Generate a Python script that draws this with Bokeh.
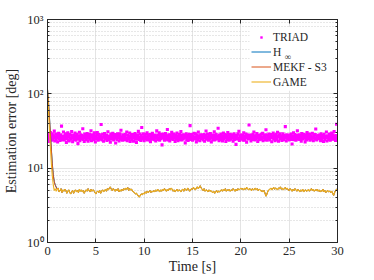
import numpy as np
from bokeh.plotting import figure
from bokeh.models import (FixedTicker, LinearAxis, LogAxis, Legend, BoxAnnotation,
                          LegendItem, Label, Range1d, CustomJSTickFormatter)
from bokeh.embed import file_html
from bokeh.resources import INLINE

# ---------------- data ----------------
triad_dt = 0.05
triad_err = [
    26.1, 24.8, 28.3, 25.5, 22.9, 27.6, 30.2, 25.0, 23.7, 26.9, 29.1, 24.4, 27.2, 25.8, 31.5, 23.3, 26.4, 28.7, 24.1, 25.9,
    27.8, 22.5, 26.6, 29.4, 24.9, 26.0, 23.6, 28.1, 25.3, 36.8, 24.2, 27.0, 25.6, 30.7, 23.9, 26.8, 24.5, 28.9, 26.2, 22.1,
    25.1, 27.4, 29.8, 24.0, 26.5, 23.2, 28.4, 25.7, 27.9, 24.6, 31.1, 26.3, 22.7, 25.4, 28.0, 24.3, 27.1, 29.6, 25.2, 23.8,
    26.7, 28.6, 24.7, 21.4, 27.3, 25.9, 30.4, 23.5, 26.0, 28.2, 24.8, 27.5, 25.1, 33.9, 24.4, 26.6, 22.8, 28.8, 25.6, 27.7,
    24.2, 26.9, 29.3, 25.3, 23.1, 27.0, 25.8, 28.5, 24.6, 26.2, 31.8, 23.4, 26.4, 28.1, 25.0, 24.1, 27.6, 29.9, 25.5, 22.6,
    26.8, 24.9, 27.9, 30.1, 25.2, 23.7, 26.3, 28.4, 24.5, 25.7, 27.2, 38.6, 25.9, 24.0, 28.6, 26.1, 23.0, 27.4, 29.2, 25.4,
    24.7, 26.5, 28.0, 23.6, 25.8, 30.9, 26.7, 24.3, 27.1, 25.1, 22.4, 28.7, 26.0, 24.8, 27.8, 29.5, 25.6, 23.9, 26.9, 28.3,
    25.3, 21.8, 27.5, 26.2, 24.4, 29.0, 25.9, 27.3, 23.3, 26.6, 28.9, 24.6, 32.4, 25.0, 26.4, 23.8, 28.2, 25.7, 24.1, 27.0,
    26.3, 28.5, 24.2, 25.5, 30.6, 23.5, 27.7, 25.2, 26.8, 24.9, 29.7, 22.9, 26.1, 27.9, 25.4, 24.0, 28.4, 26.5, 23.1, 27.2,
    25.8, 29.3, 24.5, 26.7, 22.2, 28.1, 25.1, 27.4, 31.3, 24.3, 26.0, 28.8, 25.6, 23.6, 27.6, 35.2, 24.8, 26.2, 29.1, 25.0,
    23.4, 27.1, 25.7, 28.6, 24.7, 26.4, 30.0, 23.9, 25.3, 27.8, 26.9, 24.2, 28.3, 22.7, 25.9, 27.5, 24.6, 29.4, 26.6, 25.2,
    27.3, 24.1, 26.1, 28.0, 23.2, 25.5, 31.7, 26.8, 24.4, 27.7, 25.0, 29.8, 23.7, 26.3, 28.5, 24.9, 25.8, 20.6, 27.0, 26.5,
    28.7, 25.4, 23.8, 26.9, 29.2, 24.5, 27.2, 25.6, 33.1, 24.0, 26.6, 28.2, 25.1, 23.3, 27.9, 26.0, 24.8, 30.3, 25.7, 27.4,
    24.3, 26.2, 28.8, 25.3, 22.8, 27.6, 25.9, 24.6, 29.6, 26.4, 23.5, 27.1, 25.0, 28.4, 24.2, 26.7, 31.0, 25.5, 23.9, 27.8,
    26.0, 24.7, 28.1, 25.8, 27.3, 21.9, 26.5, 29.0, 24.1, 25.6, 27.5, 23.6, 26.8, 28.6, 25.2, 37.4, 24.4, 26.1, 28.3, 25.0,
    23.7, 27.0, 25.4, 29.5, 24.8, 26.3, 28.9, 25.1, 22.6, 27.7, 26.6, 24.3, 30.5, 25.7, 27.2, 23.4, 26.0, 28.2, 24.9, 26.4,
    27.9, 25.3, 24.0, 26.7, 28.4, 23.0, 25.9, 27.4, 31.6, 24.6, 26.2, 28.7, 25.5, 23.8, 27.1, 26.9, 24.5, 29.3, 25.8, 22.5,
    26.6, 28.0, 24.2, 25.6, 27.6, 30.8, 23.9, 26.3, 25.0, 28.5, 24.7, 27.0, 25.3, 34.4, 26.1, 23.5, 27.8, 25.9, 24.4, 28.8,
    25.2, 26.8, 23.3, 27.3, 29.7, 24.9, 26.0, 28.3, 25.4, 22.9, 27.5, 26.4, 24.1, 30.2, 25.7, 27.9, 23.7, 26.5, 28.6, 25.1,
    24.6, 27.2, 25.8, 28.1, 23.1, 26.2, 29.1, 24.3, 26.9, 25.5, 20.9, 27.7, 26.6, 24.8, 28.9, 25.0, 31.4, 23.6, 27.0, 26.3,
    28.2, 24.5, 26.7, 25.3, 27.4, 23.8, 29.9, 25.9, 24.0, 27.1, 26.1, 28.7, 22.4, 25.6, 27.8, 24.7, 26.4, 38.1, 25.2, 28.0,
    25.7, 23.2, 27.6, 26.0, 24.4, 28.4, 25.1, 30.7, 26.8, 23.9, 27.3, 25.4, 24.9, 29.2, 26.5, 22.8, 27.9, 25.8, 24.2, 26.9,
    27.5, 25.0, 28.6, 24.6, 26.3, 29.4, 23.4, 25.7, 27.0, 26.2, 24.1, 28.1, 32.8, 25.5, 23.7, 27.7, 26.6, 24.8, 28.8, 25.3,
    24.0, 26.4, 28.3, 25.9, 22.7, 27.2, 25.6, 29.6, 24.5, 26.7, 27.8, 23.5, 26.1, 28.5, 24.3, 25.2, 30.4, 26.9, 23.0, 27.4,
    26.5, 28.9, 24.7, 25.4, 27.1, 23.6, 26.8, 29.0, 25.0, 24.2, 27.6, 26.0, 36.2, 25.8, 23.3, 28.2, 26.3, 24.9, 27.3, 25.5,
    23.9, 27.9, 25.3, 26.6, 28.7, 24.4, 21.1, 27.0, 25.7, 29.8, 24.1, 26.2, 28.4, 25.1, 23.8, 27.5, 26.7, 31.9, 24.6, 26.0,
    28.1, 25.6, 24.3, 27.7, 26.4, 23.1, 29.3, 25.2, 27.2, 24.8, 26.9, 28.6, 25.4, 22.6, 27.4, 26.1, 24.0, 30.1, 25.9, 27.8,
    25.0, 26.7, 28.8, 23.7, 25.5, 27.3, 24.5, 26.3, 29.5, 25.8, 23.4, 27.9, 26.5, 24.7, 28.3, 33.6, 25.3, 23.9, 27.1, 26.8,
    24.9, 27.6, 25.1, 28.0, 26.2, 23.5, 29.1, 24.2, 26.0, 27.5, 25.7, 22.9, 28.5, 26.6, 24.4, 27.0, 25.9, 30.6, 23.2, 26.4,
    27.2, 25.4, 24.1, 28.7, 26.9, 23.8, 27.8, 25.6, 29.7, 24.6, 26.3, 28.2, 25.0, 31.2, 24.8, 26.7, 23.6, 27.4, 39.0, 25.8,
]

filt_dt = 0.1
game_err = [
    115, 60, 33, 19, 11.5, 7.8, 5.9, 5.0, 5.3, 4.9,
    5.2, 5.4, 4.8, 5.0, 5.3, 4.7, 5.1, 4.9, 5.2, 5.0,
    4.6, 4.9, 5.1, 4.7, 4.5, 4.8, 5.0, 4.6, 4.9, 5.1,
    4.8, 5.0, 4.7, 5.2, 4.9, 5.1, 4.8, 5.0, 4.6, 4.9,
    5.1, 4.9, 5.3, 5.0, 4.8, 5.2, 4.9, 5.1, 5.0, 4.7,
    4.5, 4.8, 4.9, 4.7, 5.0, 4.6, 4.9, 5.1, 4.8, 5.0,
    5.2, 4.9, 5.3, 5.1, 5.4, 5.6, 5.2, 5.0, 5.3, 5.1,
    4.9, 5.2, 5.0, 5.3, 4.8, 5.1, 4.9, 5.2, 5.0, 5.3,
    5.1, 5.4, 5.2, 5.5, 5.0, 5.3, 5.1, 5.2, 4.9, 4.8,
    4.7, 4.5, 4.6, 4.4, 4.2, 4.1, 4.3, 4.5, 4.4, 4.6,
    4.5, 4.8, 4.6, 4.9, 4.7, 4.8, 5.0, 4.7, 4.9, 4.8,
    5.0, 4.8, 5.1, 4.9, 5.2, 5.0, 4.8, 5.1, 4.9, 5.2,
    5.0, 5.3, 5.1, 4.9, 5.2, 5.0, 5.3, 5.1, 5.4, 5.2,
    4.9, 5.1, 4.8, 5.0, 5.2, 4.9, 5.1, 5.0, 4.8, 5.1,
    5.2, 4.9, 5.3, 5.1, 5.0, 5.4, 5.2, 4.9, 5.1, 5.3,
    5.2, 5.5, 5.3, 5.1, 5.4, 5.6, 5.3, 5.5, 5.8, 5.4,
    5.2, 5.0, 5.3, 4.9, 5.1, 5.0, 4.8, 5.1, 4.9, 5.0,
    4.8, 4.7, 4.9, 4.6, 4.8, 5.0, 4.7, 4.9, 4.8, 5.0,
    5.1, 4.9, 5.2, 5.0, 5.3, 4.9, 5.1, 5.0, 5.2, 4.9,
    5.1, 5.0, 5.3, 5.1, 4.9, 5.2, 5.0, 5.3, 5.1, 5.2,
    5.4, 5.2, 5.3, 5.1, 5.4, 5.2, 5.5, 5.3, 5.1, 5.3,
    5.2, 5.0, 5.3, 5.1, 5.2, 5.4, 5.1, 5.3, 5.0, 5.2,
    5.1, 4.9, 5.0, 4.8, 5.0, 4.6, 4.2, 4.5, 4.9, 5.1,
    5.2, 5.4, 5.1, 5.3, 5.5, 5.2, 5.4, 5.3, 5.1, 5.4,
    5.3, 5.6, 5.2, 5.4, 5.1, 5.3, 5.5, 5.2, 5.4, 5.1,
    5.0, 5.3, 5.1, 4.9, 5.2, 5.0, 5.3, 5.1, 4.9, 5.2,
    5.0, 4.8, 5.1, 4.9, 5.2, 4.8, 5.0, 5.1, 4.9, 5.0,
    5.2, 4.9, 5.1, 5.3, 5.0, 5.2, 4.9, 5.1, 5.0, 5.2,
    4.9, 5.1, 4.8, 5.0, 4.9, 5.2, 4.8, 5.0, 4.7, 4.9,
    5.0, 4.8, 4.9, 4.7, 4.9, 4.6, 4.3, 4.7, 5.0, 5.2,
    5.1,
]
# start-up transients (t = 0 ... 1.0 s); afterwards the curves coincide with GAME
hinf_start = [115, 80, 50, 30, 18, 11.5, 8.2, 6.6, 6.0, 5.6, 5.3]
mekf_start = [115, 78, 48, 29, 17.5, 11.0, 8.0, 6.5, 5.9, 5.5, 5.2]

y_ticks = [1, 10, 100, 1000]
y_tick_labels = ["10\u2070", "10\u00b9", "10\u00b2", "10\u00b3"]
x_ticks = [0, 5, 10, 15, 20, 25, 30]

# ---------------- build ----------------
n_start = len(hinf_start)
t_triad = np.arange(len(triad_err)) * triad_dt
t_filt = np.arange(len(game_err)) * filt_dt
hinf_err = hinf_start + game_err[n_start:]
mekf_err = mekf_start + game_err[n_start:]

FONT = "Liberation Serif"
AX = "#262626"

p = figure(width=372, height=278, x_range=Range1d(0, 30), y_range=Range1d(1, 1000),
           y_axis_type="log", output_backend="svg", toolbar_location=None,
           min_border_left=47, min_border_right=35, min_border_top=19, min_border_bottom=36)
p.outline_line_color = AX
p.outline_line_width = 1

minor = [m * d for d in [1, 10, 100] for m in range(2, 10)]
yticker = FixedTicker(ticks=y_ticks, minor_ticks=minor)
xticker = FixedTicker(ticks=x_ticks)

p.xaxis.ticker = xticker
p.yaxis.ticker = yticker
p.xgrid.ticker = xticker
p.ygrid.ticker = yticker
p.yaxis.major_label_overrides = {t: s for t, s in zip(y_ticks, y_tick_labels)}

for ax in (p.xaxis[0], p.yaxis[0]):
    ax.axis_line_color = AX
    ax.major_tick_line_color = AX
    ax.minor_tick_line_color = AX
    ax.major_tick_in = 4
    ax.major_tick_out = 0
    ax.minor_tick_in = 2
    ax.minor_tick_out = 0
    ax.major_label_text_font = FONT
    ax.major_label_text_font_size = "12.5px"
    ax.major_label_text_color = AX
    ax.axis_label_text_font = FONT
    ax.axis_label_text_font_size = "14px"
    ax.axis_label_text_font_style = "normal"
    ax.axis_label_text_color = AX
    ax.major_label_standoff = 4
p.xaxis.minor_tick_in = 0
p.xaxis.axis_label = "Time [s]"
p.xaxis.axis_label_standoff = 1
p.yaxis.axis_label = "Estimation error [deg]"
p.yaxis.axis_label_standoff = 5

blank = CustomJSTickFormatter(code="return ''")
top = LinearAxis(ticker=xticker, formatter=blank, major_tick_in=4, major_tick_out=0,
                 minor_tick_in=0, minor_tick_out=0, axis_line_color=AX, major_tick_line_color=AX,
                 major_label_standoff=0)
right = LogAxis(ticker=yticker, formatter=blank, major_tick_in=4, major_tick_out=0,
                minor_tick_in=2, minor_tick_out=0, axis_line_color=AX, major_tick_line_color=AX,
                minor_tick_line_color=AX, major_label_standoff=0)
p.add_layout(top, "above")
p.add_layout(right, "right")

p.xgrid.grid_line_color = "#E4E4E4"
p.ygrid.grid_line_color = "#E4E4E4"
p.ygrid.minor_grid_line_color = "#CFCFCF"
p.ygrid.minor_grid_line_dash = "1 2"

# white area behind the legend (hides grid lines, as in the original)
p.add_layout(BoxAnnotation(left=20.9, right=29.6, top=790, bottom=110,
                           fill_color="white", fill_alpha=1, line_alpha=0, level="underlay"))

r_triad = p.scatter(t_triad, triad_err, marker="square", size=3.1, color="#FF00FF", line_width=0)
r_hinf = p.line(t_filt, hinf_err, line_color="#0072BD", line_width=1)
r_mekf = p.line(t_filt, mekf_err, line_color="#D95319", line_width=1)
r_game = p.line(t_filt, game_err, line_color="#EDB120", line_width=1.1)

common = dict(padding=0, margin=0, spacing=0, label_height=15,
              label_text_font=FONT, label_text_font_size="11.5px", label_text_color=AX,
              border_line_alpha=0, background_fill_alpha=0)
leg1 = Legend(items=[LegendItem(label="TRIAD", renderers=[r_triad])],
              location=(211, 198), glyph_width=6, glyph_height=6, label_standoff=9, **common)
leg2 = Legend(items=[LegendItem(label="H", renderers=[r_hinf]),
                     LegendItem(label="MEKF - S3", renderers=[r_mekf]),
                     LegendItem(label="GAME", renderers=[r_game])],
              location=(204, 153), glyph_width=20, glyph_height=15, label_standoff=2, **common)
p.add_layout(leg1)
p.add_layout(leg2)

p.add_layout(Label(x=24.55, y=312, text="\u221e", text_font=FONT, text_font_size="9px",
                   text_color=AX, text_baseline="middle"))

open("out.html", "w").write(file_html(p, INLINE))
